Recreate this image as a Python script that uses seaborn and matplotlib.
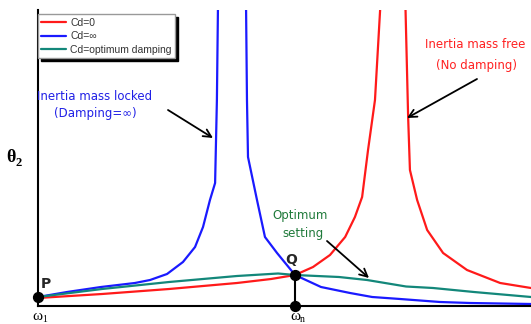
import numpy as np
import pandas as pd
import matplotlib.pyplot as plt
import seaborn as sns

# frequency axis: omega / omega_n (omega_1 at 0), response theta_2 (arbitrary units)
blue_x = [0, 0.113, 0.245, 0.377, 0.436, 0.502, 0.564, 0.611, 0.642, 0.669, 0.689, 0.696, 0.700, 0.702,
          0.808, 0.813, 0.817, 0.852, 0.883, 0.930, 1.0, 1.101, 1.214, 1.300, 1.409, 1.564, 1.681, 1.918]
blue_y = [0.09, 0.14, 0.19, 0.23, 0.26, 0.32, 0.44, 0.59, 0.79, 1.06, 1.23, 2.06, 2.96, 3.36,
          3.36, 2.06, 1.49, 1.06, 0.69, 0.53, 0.31, 0.19, 0.13, 0.09, 0.07, 0.04, 0.03, 0.02]

red_x = [0, 0.249, 0.510, 0.774, 0.907, 1.0, 1.070, 1.136, 1.195, 1.233, 1.261, 1.284, 1.311, 1.331, 1.335,
         1.428, 1.428, 1.440, 1.447, 1.475, 1.514, 1.576, 1.669, 1.798, 1.918]
red_y = [0.08, 0.12, 0.17, 0.23, 0.27, 0.31, 0.39, 0.51, 0.69, 0.89, 1.09, 1.56, 2.06, 2.96, 3.36,
         3.36, 2.96, 1.89, 1.36, 1.06, 0.76, 0.53, 0.36, 0.23, 0.18]

green_x = [0, 0.249, 0.510, 0.774, 0.934, 1.0, 1.171, 1.280, 1.432, 1.537, 1.696, 1.918]
green_y = [0.09, 0.17, 0.24, 0.30, 0.325, 0.31, 0.29, 0.26, 0.195, 0.18, 0.14, 0.09]

series_names = ['Cd=0', 'Cd=\u221e', 'Cd=optimum damping']
series_colors = ['#ff1a1a', '#1a1aff', '#13877a']

point_x = [0, 1.0, 1.0]
point_y = [0.09, 0.31, 0.0]

sns.set_style('white')
plt.rcParams['font.family'] = ['DejaVu Sans']

W, H = 531, 324
fig = plt.figure(figsize=(W / 100, H / 100), dpi=100)
ax = fig.add_axes([38 / W, (H - 306) / H, 493 / W, 296 / H])


def px(x, y):
    return (x / W, 1 - y / H)


frames = [
    pd.DataFrame({'w': red_x, 'theta': red_y, 'case': series_names[0]}),
    pd.DataFrame({'w': blue_x, 'theta': blue_y, 'case': series_names[1]}),
    pd.DataFrame({'w': green_x, 'theta': green_y, 'case': series_names[2]}),
]
for df, c in zip(frames, series_colors):
    sns.lineplot(data=df, x='w', y='theta', sort=False, color=c, lw=1.6,
                 label=df['case'].iloc[0], ax=ax)

ax.set_xlim(0, 1.918)
ax.set_ylim(0, 2.96)
ax.set_xticks([])
ax.set_yticks([])
ax.set_xlabel('')
ax.set_ylabel('')
for s in ['top', 'right']:
    ax.spines[s].set_visible(False)
for s in ['left', 'bottom']:
    ax.spines[s].set_color('black')
    ax.spines[s].set_linewidth(1.5)

# Q -> omega_n guide and marker dots
ax.plot([point_x[1], point_x[2]], [point_y[1], point_y[2]], color='black', lw=1.5)
ax.scatter(point_x, point_y, s=50, color='black', zorder=5, clip_on=False)

leg = ax.legend(loc='upper left', bbox_to_anchor=(0.0, 0.985), fancybox=False,
                shadow={'color': 'black', 'alpha': 1}, frameon=True,
                prop={'family': 'Liberation Sans', 'size': 7.5},
                handlelength=2.4, borderpad=0.3, labelspacing=0.35, handletextpad=0.4,
                borderaxespad=0)
leg.get_frame().set_edgecolor('#999999')
leg.get_frame().set_linewidth(1.0)
for t in leg.get_texts():
    t.set_color('#333333')

# greek symbols in serif, subscripts as separate small text
serif = dict(family='Liberation Serif', color='black', va='center')
fig.text(*px(42, 316), '\u03c9', fontsize=11, ha='right', **serif)
fig.text(*px(42, 319), '1', fontsize=7, ha='left', **serif)
fig.text(*px(300, 316), '\u03c9', fontsize=11, ha='right', **serif)
fig.text(*px(300, 319), 'n', fontsize=7, ha='left', **serif)
fig.text(*px(16, 158), '\u03b8', fontsize=13, ha='right', fontweight='bold', **serif)
fig.text(*px(16, 163), '2', fontsize=9, ha='left', fontweight='bold', **serif)

fig.text(*px(46, 284), 'P', fontsize=10, fontweight='bold', ha='center', va='center')
fig.text(*px(291, 260), 'Q', fontsize=10, fontweight='bold', ha='center', va='center')

txt = dict(fontsize=8.5, ha='center', va='center')
fig.text(*px(95, 96), 'Inertia mass locked', color='#2020e6', **txt)
fig.text(*px(95, 114), '(Damping=\u221e)', color='#2020e6', **txt)
fig.text(*px(475, 45), 'Inertia mass free', color='#ff2020', **txt)
fig.text(*px(477, 65), '(No damping)', color='#ff2020', **txt)
fig.text(*px(300, 215), 'Optimum', color='#1f7a3a', **txt)
fig.text(*px(303, 233), 'setting', color='#1f7a3a', **txt)

arrow = dict(arrowstyle='->', color='black', lw=1.3, mutation_scale=14, shrinkA=0, shrinkB=0)
for start, end in [((168, 110), (213, 138)), ((477, 79), (407, 118)), ((327, 241), (369, 278))]:
    ax.annotate('', xy=px(*end), xycoords='figure fraction', xytext=px(*start),
                textcoords='figure fraction', arrowprops=arrow)

fig.savefig('out.png', dpi=100)
